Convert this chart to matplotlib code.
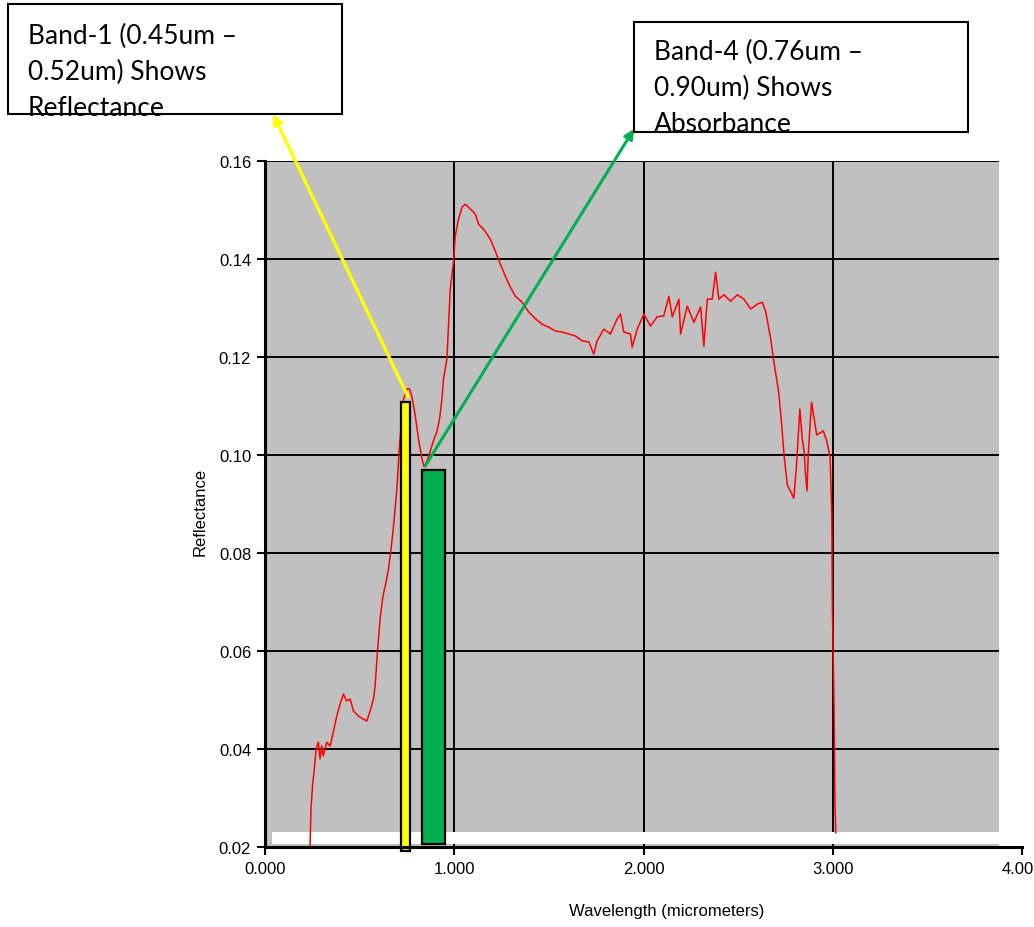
import matplotlib
matplotlib.use("Agg")
import matplotlib.pyplot as plt
from matplotlib.patches import Rectangle
from matplotlib.transforms import ScaledTranslation

# spectrum (wavelength in micrometers, reflectance)
wavelength = [0.238, 0.243, 0.252, 0.259, 0.270, 0.282, 0.291, 0.300, 0.308, 0.326,
              0.344, 0.361, 0.379, 0.397, 0.414, 0.432, 0.450, 0.467, 0.494, 0.520,
              0.538, 0.556, 0.573, 0.582, 0.594, 0.608, 0.623, 0.640, 0.652, 0.665,
              0.679, 0.697, 0.711, 0.732, 0.750, 0.763, 0.776, 0.794, 0.811, 0.829,
              0.841, 0.856, 0.873, 0.890, 0.908, 0.922, 0.935, 0.943, 0.961, 0.979,
              0.996, 1.005, 1.023, 1.041, 1.058, 1.085, 1.111, 1.129, 1.155, 1.190,
              1.217, 1.243, 1.270, 1.296, 1.323, 1.358, 1.393, 1.429, 1.464, 1.499,
              1.534, 1.570, 1.605, 1.640, 1.676, 1.711, 1.737, 1.755, 1.790, 1.825,
              1.861, 1.878, 1.896, 1.931, 1.940, 1.967, 2.002, 2.037, 2.072, 2.107,
              2.134, 2.152, 2.187, 2.196, 2.231, 2.266, 2.302, 2.319, 2.337, 2.363,
              2.381, 2.398, 2.425, 2.460, 2.496, 2.531, 2.566, 2.602, 2.628, 2.646,
              2.672, 2.689, 2.714, 2.729, 2.743, 2.760, 2.794, 2.808, 2.826, 2.839,
              2.849, 2.856, 2.864, 2.870, 2.881, 2.888, 2.915, 2.950, 2.968, 2.986,
              2.995, 2.998, 3.007, 3.012, 3.016]
reflectance = [0.0202, 0.0278, 0.0329, 0.0353, 0.0400, 0.0414, 0.0380, 0.0406, 0.0386, 0.0414,
               0.0406, 0.0435, 0.0467, 0.0492, 0.0512, 0.0498, 0.0502, 0.0478, 0.0467, 0.0461,
               0.0457, 0.0478, 0.0502, 0.0529, 0.0598, 0.0665, 0.0712, 0.0741, 0.0767, 0.0804,
               0.0855, 0.0931, 0.1022, 0.1114, 0.1135, 0.1135, 0.1120, 0.1080, 0.1033, 0.0992,
               0.0976, 0.0988, 0.1008, 0.1029, 0.1047, 0.1073, 0.1114, 0.1155, 0.1196, 0.1339,
               0.1394, 0.1447, 0.1482, 0.1506, 0.1512, 0.1502, 0.1492, 0.1471, 0.1461, 0.1441,
               0.1416, 0.1390, 0.1365, 0.1343, 0.1324, 0.1312, 0.1292, 0.1278, 0.1267, 0.1261,
               0.1253, 0.1251, 0.1247, 0.1243, 0.1233, 0.1231, 0.1206, 0.1233, 0.1257, 0.1247,
               0.1278, 0.1288, 0.1251, 0.1247, 0.1220, 0.1257, 0.1288, 0.1263, 0.1282, 0.1284,
               0.1324, 0.1282, 0.1318, 0.1247, 0.1304, 0.1271, 0.1302, 0.1222, 0.1318, 0.1318,
               0.1373, 0.1318, 0.1327, 0.1314, 0.1327, 0.1318, 0.1298, 0.1308, 0.1312, 0.1292,
               0.1237, 0.1190, 0.1129, 0.1067, 0.0998, 0.0939, 0.0912, 0.0976, 0.1094, 0.1033,
               0.1006, 0.0961, 0.0927, 0.0996, 0.1067, 0.1108, 0.1041, 0.1049, 0.1029, 0.0996,
               0.0882, 0.0688, 0.0486, 0.0282, 0.0229]

# the two band markers
band_x = [0.7435, 0.8915]
band_w = [0.047, 0.121]
band_bottom = [0.0192, 0.0206]
band_top = [0.1108, 0.0969]
band_colors = ["#ffff00", "#00b050"]

x_ticks = [0.0, 1.0, 2.0, 3.0, 4.0]
x_ticklabels = ["0.000", "1.000", "2.000", "3.000", "4.00"]
y_ticks = [0.02, 0.04, 0.06, 0.08, 0.10, 0.12, 0.14, 0.16]
y_ticklabels = ["0.02", "0.04", "0.06", "0.08", "0.10", "0.12", "0.14", "0.16"]

tick_font = ["Liberation Sans Narrow", "Liberation Sans", "DejaVu Sans"]
box_font = ["Lato", "DejaVu Sans"]

fig = plt.figure(figsize=(10.34, 9.28), dpi=100)
ax = fig.add_axes([0.2563, 0.0862, 0.7321, 0.7392])
ax.set_xlim(0, 4.0)
ax.set_ylim(0.02, 0.16)

# gray plot area (stops short of 4.0 like the original) + white strip at the bottom
gray_end = 3.878
ax.add_patch(Rectangle((0, 0.02), gray_end, 0.14, facecolor="#c0c0c0", edgecolor="none", zorder=0))
ax.hlines(y_ticks[1:], 0, gray_end, colors="black", lw=1.4, zorder=1)
ax.vlines(x_ticks[1:4], 0.02, 0.16, colors="black", lw=1.4, zorder=1)
ax.add_patch(Rectangle((0.037, 0.0206), gray_end - 0.037, 0.0025, facecolor="white", edgecolor="none", zorder=1.5))

ax.plot(wavelength, reflectance, color="red", lw=1.1, zorder=2)

ax.bar(band_x, [t - b for t, b in zip(band_top, band_bottom)], width=band_w, bottom=band_bottom,
       color=band_colors, edgecolor="black", linewidth=1.6, zorder=3, clip_on=False)

for sp in ["top", "right"]:
    ax.spines[sp].set_visible(False)
ax.spines["left"].set_linewidth(2.2)
ax.spines["bottom"].set_linewidth(2.2)
ax.spines["left"].set_zorder(4)
ax.spines["bottom"].set_zorder(4)

ax.set_xticks(x_ticks)
ax.set_xticklabels(x_ticklabels, family=tick_font, fontsize=12)
ax.set_yticks(y_ticks)
ax.set_yticklabels(y_ticklabels, family=tick_font, fontsize=12)
ax.tick_params(direction="out", length=6, width=1.5, pad=4)

# last x label is pushed to the right edge, as in the original
last = ax.get_xticklabels()[-1]
last.set_ha("right")
last.set_transform(last.get_transform() + ScaledTranslation(12 / 100, 0, fig.dpi_scale_trans))

ax.set_xlabel("Wavelength (micrometers)", family=tick_font, fontsize=12)
ax.set_ylabel("Reflectance", family=tick_font, fontsize=12)
ax.xaxis.set_label_coords(0.53, -0.082)
ax.yaxis.set_label_coords(-0.076, 0.49)

# text boxes and arrows
W, H = 1034, 928
fig.patches.append(Rectangle((8 / W, 1 - 115 / H), 334 / W, 110 / H, transform=fig.transFigure,
                             facecolor="white", edgecolor="black", lw=1.5))
fig.patches.append(Rectangle((634 / W, 1 - 133 / H), 334 / W, 110 / H, transform=fig.transFigure,
                             facecolor="white", edgecolor="black", lw=1.5))
fig.text(28 / W, 1 - 24 / H, "Band-1 (0.45um –\n0.52um) Shows\nReflectance",
         family=box_font, fontsize=19, va="top", ha="left", linespacing=1.55)
fig.text(654 / W, 1 - 40 / H, "Band-4 (0.76um –\n0.90um) Shows\nAbsorbance",
         family=box_font, fontsize=19, va="top", ha="left", linespacing=1.55)

ax.annotate("", xy=(273 / W, 1 - 115 / H), xycoords="figure fraction",
            xytext=(0.757, 0.1118), textcoords="data", annotation_clip=False,
            arrowprops=dict(arrowstyle="-|>", color="#ffff00", lw=2.4, mutation_scale=14,
                            shrinkA=0, shrinkB=0), zorder=5)
ax.annotate("", xy=(634 / W, 1 - 130 / H), xycoords="figure fraction",
            xytext=(0.847, 0.0978), textcoords="data", annotation_clip=False,
            arrowprops=dict(arrowstyle="-|>", color="#00b050", lw=2.2, mutation_scale=14,
                            shrinkA=0, shrinkB=0), zorder=5)

fig.savefig("out.png", dpi=100)
